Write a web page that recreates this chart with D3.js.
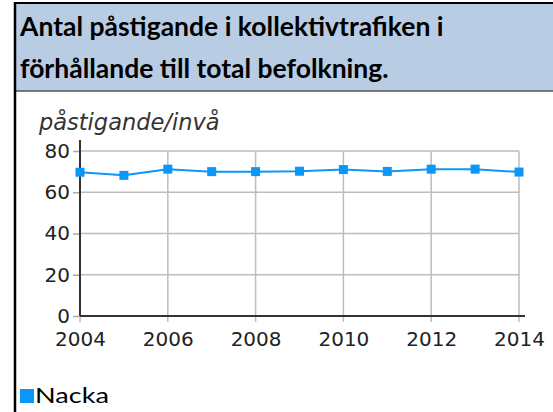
<!DOCTYPE html>
<html>
<head>
<meta charset="utf-8">
<script src="https://cdn.jsdelivr.net/npm/d3@7"></script>
<style>
  body { margin: 0; background: #fff; }
  svg { display: block; }
</style>
</head>
<body>
<div class="canvas"></div>
<script>
// data
const years = [2004, 2005, 2006, 2007, 2008, 2009, 2010, 2011, 2012, 2013, 2014];
const values = [69.7, 68.2, 71.2, 70.0, 70.0, 70.2, 71.0, 70.1, 71.2, 71.2, 69.8];
const yTicks = [0, 20, 40, 60, 80];
const xTicks = [2004, 2006, 2008, 2010, 2012, 2014];
const seriesName = 'Nacka';
const titleLines = ['Antal påstigande i kollektivtrafiken i', 'förhållande till total befolkning.'];
const yLabel = 'påstigande/invå';

const W = 553, H = 412;
const blue = '#0b97f7';

const svg = d3.select('.canvas')
  .append('svg')
  .attr('width', W)
  .attr('height', H);

// title box
svg.append('rect')
  .attr('x', 15).attr('y', 3)
  .attr('width', W - 15).attr('height', 88)
  .attr('fill', '#b8cce4');
svg.append('line')
  .attr('x1', 15).attr('x2', W).attr('y1', 91).attr('y2', 91)
  .attr('stroke', '#555').attr('stroke-width', 1.5);
svg.append('line')
  .attr('x1', 14).attr('x2', W).attr('y1', 3).attr('y2', 3)
  .attr('stroke', '#000').attr('stroke-width', 2);
svg.append('line')
  .attr('x1', 15).attr('x2', 15).attr('y1', 2).attr('y2', H)
  .attr('stroke', '#000').attr('stroke-width', 2.5);

svg.selectAll('text.title')
  .data(titleLines)
  .enter()
  .append('text')
  .attr('class', 'title')
  .attr('x', 20)
  .attr('y', (d, i) => 36 + i * 42)
  .attr('font-family', 'Lato, sans-serif')
  .attr('font-weight', 'bold')
  .attr('font-size', 26.5)
  .attr('fill', '#000')
  .text(d => d);

// scales
const x = d3.scaleLinear().domain([2004, 2014]).range([80, 519]);
const y = d3.scaleLinear().domain([0, 80]).range([316, 151]);

const graph = svg.append('g');

// grid
graph.selectAll('line.hgrid')
  .data(yTicks.filter(d => d > 0))
  .enter()
  .append('line')
  .attr('x1', x(2004)).attr('x2', x(2014))
  .attr('y1', d => y(d)).attr('y2', d => y(d))
  .attr('stroke', '#bdbdbd').attr('stroke-width', 1.5);

graph.selectAll('line.vgrid')
  .data(xTicks)
  .enter()
  .append('line')
  .attr('x1', d => x(d)).attr('x2', d => x(d))
  .attr('y1', y(80)).attr('y2', y(0) + 6)
  .attr('stroke', '#bdbdbd').attr('stroke-width', 1.5);

// axes
const yAxis = d3.axisLeft(y).tickValues(yTicks).tickSize(7).tickPadding(3);
const xAxis = d3.axisBottom(x).tickValues(xTicks).tickFormat(d3.format('d')).tickSize(0).tickPadding(16);

const gy = graph.append('g').attr('transform', `translate(${x(2004)},0)`).call(yAxis);
gy.select('.domain').remove();
gy.selectAll('.tick line').attr('stroke', '#aaa').attr('stroke-width', 1.5);
gy.selectAll('.tick text')
  .attr('font-family', 'DejaVu Sans, sans-serif')
  .attr('font-size', 20)
  .attr('fill', '#222');

const gx = graph.append('g').attr('transform', `translate(0,${y(0)})`).call(xAxis);
gx.select('.domain').remove();
gx.selectAll('.tick text')
  .attr('font-family', 'DejaVu Sans, sans-serif')
  .attr('font-size', 20)
  .attr('fill', '#222');

graph.append('line')
  .attr('x1', x(2004)).attr('x2', x(2004))
  .attr('y1', 140).attr('y2', y(0))
  .attr('stroke', '#333').attr('stroke-width', 2);
graph.append('line')
  .attr('x1', x(2004)).attr('x2', 525)
  .attr('y1', y(0)).attr('y2', y(0))
  .attr('stroke', '#333').attr('stroke-width', 2);

// y label
svg.append('text')
  .attr('x', 39).attr('y', 130)
  .attr('font-family', 'DejaVu Sans, sans-serif')
  .attr('font-style', 'italic')
  .attr('font-size', 22.5)
  .attr('fill', '#333')
  .text(yLabel);

// line + markers
const data = years.map((yr, i) => ({ year: yr, value: values[i] }));
const line = d3.line().x(d => x(d.year)).y(d => y(d.value));

graph.append('path')
  .datum(data)
  .attr('d', line)
  .attr('fill', 'none')
  .attr('stroke', blue)
  .attr('stroke-width', 2);

graph.selectAll('rect.marker')
  .data(data)
  .enter()
  .append('rect')
  .attr('class', 'marker')
  .attr('x', d => x(d.year) - 4.5)
  .attr('y', d => y(d.value) - 4.5)
  .attr('width', 9).attr('height', 9)
  .attr('fill', blue);

// legend
svg.append('rect')
  .attr('x', 20).attr('y', 389)
  .attr('width', 14).attr('height', 14)
  .attr('fill', blue);
svg.append('text')
  .attr('transform', 'translate(35,403) scale(1.26,1)')
  .attr('font-family', 'Lato, sans-serif')
  .attr('font-size', 21.5)
  .attr('fill', '#000')
  .text(seriesName);
</script>
</body>
</html>
